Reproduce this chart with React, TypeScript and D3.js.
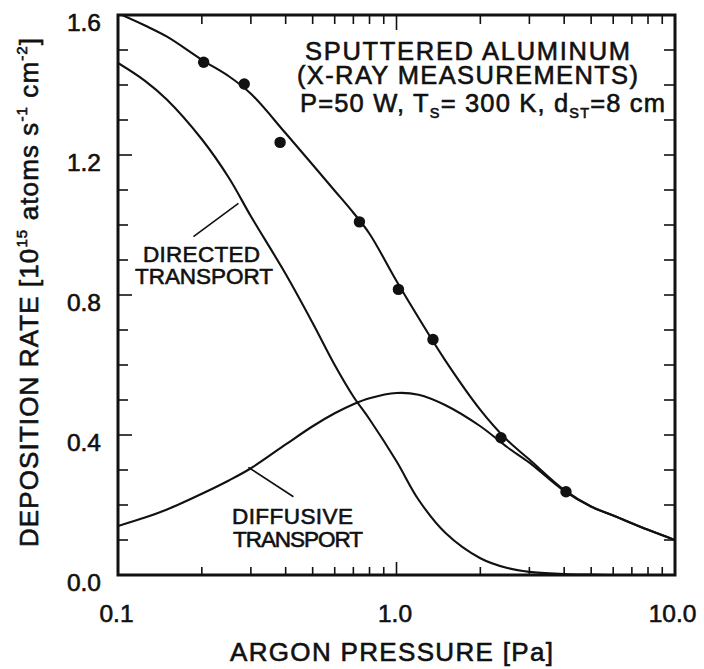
import React from "react";
import * as d3 from "d3";

// Argon pressure grid [Pa] on which the model curves are tabulated
const pressures = [0.1, 0.125, 0.15, 0.2, 0.25, 0.3, 0.4, 0.5, 0.6, 0.7, 0.8, 1.0, 1.2, 1.5, 2.0, 2.5, 3.0, 4.0, 5.0, 6.0, 8.0, 10.0];
// Deposition rate [10^15 atoms s^-1 cm^-2]
const totalRate = [1.605, 1.57, 1.538, 1.472, 1.425, 1.375, 1.262, 1.172, 1.098, 1.035, 0.975, 0.84, 0.735, 0.612, 0.472, 0.385, 0.33, 0.243, 0.196, 0.17, 0.129, 0.1];
const directedRate = [1.463, 1.412, 1.358, 1.245, 1.135, 1.025, 0.86, 0.72, 0.6, 0.51, 0.445, 0.325, 0.215, 0.12, 0.048, 0.02, 0.009, 0.003, 0.001, 0, 0, 0];
const diffusiveRate = [0.14, 0.164, 0.187, 0.232, 0.27, 0.305, 0.373, 0.425, 0.462, 0.488, 0.505, 0.52, 0.515, 0.485, 0.425, 0.365, 0.321, 0.24, 0.195, 0.17, 0.129, 0.1];

// X-ray measurements
const measuredPressure = [0.203, 0.284, 0.382, 0.736, 1.016, 1.352, 2.372, 4.06];
const measuredRate = [1.465, 1.403, 1.236, 1.009, 0.816, 0.673, 0.392, 0.238];

const xTickValues = [0.1, 1, 10];
const xTickLabels = ["0.1", "1.0", "10.0"];
const yTickValues = [0, 0.4, 0.8, 1.2, 1.6];
const yTickLabels = ["0.0", "0.4", "0.8", "1.2", "1.6"];

const W = 704;
const H = 669;
const left = 118;
const right = 675;
const top = 15;
const bottom = 575;
const FONT = "'Liberation Sans', Arial, Helvetica, sans-serif";
const INK = "#111";
// slight outline so the lettering reads as heavy as the line work
const textInk = { fill: INK, stroke: INK, strokeWidth: 0.6 };

export default function App() {
  const x = d3.scaleLog().domain([0.1, 10]).range([left, right]);
  const y = d3.scaleLinear().domain([0, 1.6]).range([bottom, top]);

  const line = d3
    .line<number>()
    .x((_, i) => x(pressures[i]))
    .y((d) => y(d))
    .curve(d3.curveCatmullRom.alpha(0.5));

  const xMinor = x.ticks();
  const yMinor = d3.range(0, 17).map((i) => i / 10);
  const isMajorX = (v: number) => Math.abs(Math.log10(v) - Math.round(Math.log10(v))) < 1e-9;
  const isMajorY = (v: number) => Math.abs(v / 0.4 - Math.round(v / 0.4)) < 1e-9;

  // annotation leaders, in data space
  const dirLeader = { p0: 0.2706, v0: 1.062, p1: 0.1866, v1: 0.967 };
  const difLeader = { p0: 0.2938, v0: 0.3077, p1: 0.4266, v1: 0.2237 };

  return (
    <svg
      width={W}
      height={H}
      style={{ position: "absolute", left: 0, top: 0, background: "#fff" }}
      fontFamily={FONT}
    >
      <rect width={W} height={H} fill="#fff" />
      <defs>
        <clipPath id="plot-area">
          <rect x={left} y={top} width={right - left} height={bottom - top} />
        </clipPath>
      </defs>

      {/* ticks */}
      <g stroke={INK} strokeWidth={1.6}>
        {yMinor.map((v) => {
          const major = isMajorY(v);
          return (
            <g key={"y" + v}>
              <line x1={left} x2={left + (major ? 14 : 10)} y1={y(v)} y2={y(v)} />
              <line x1={right} x2={right - 11} y1={y(v)} y2={y(v)} />
            </g>
          );
        })}
        {xMinor.map((v) => {
          const major = isMajorX(v);
          return (
            <g key={"x" + v}>
              <line x1={x(v)} x2={x(v)} y1={bottom} y2={bottom - (major ? 13 : 8)} />
              <line x1={x(v)} x2={x(v)} y1={top} y2={top + (major ? 15 : 9)} />
            </g>
          );
        })}
      </g>

      {/* curves */}
      <g clipPath="url(#plot-area)" fill="none" stroke={INK} strokeWidth={2.1}>
        <path d={line(directedRate) || ""} />
        <path d={line(diffusiveRate) || ""} />
        <path d={line(totalRate) || ""} />
      </g>

      {/* measured points */}
      <g fill={INK}>
        {measuredPressure.map((p, i) => (
          <circle key={i} cx={x(p)} cy={y(measuredRate[i])} r={5.7} />
        ))}
      </g>

      {/* frame */}
      <rect
        x={left}
        y={top}
        width={right - left}
        height={bottom - top}
        fill="none"
        stroke={INK}
        strokeWidth={3}
      />

      {/* tick labels */}
      <g {...textInk} fontSize={24.5}>
        {yTickValues.map((v, i) => (
          <text key={"yl" + v} x={101} y={y(v) + 15.5} textAnchor="end">
            {yTickLabels[i]}
          </text>
        ))}
        {xTickValues.map((v, i) => (
          <text key={"xl" + v} x={x(v) - (i === 2 ? 2.5 : 1.5)} y={622} textAnchor="middle">
            {xTickLabels[i]}
          </text>
        ))}
      </g>

      {/* axis titles */}
      <text x={230} y={661} fontSize={26} {...textInk} textLength={323} lengthAdjust="spacing">
        ARGON PRESSURE  [Pa]
      </text>
      <text
        transform="translate(37.5,547) rotate(-90)"
        fontSize={26}
        {...textInk}
        textLength={509}
        lengthAdjust="spacing"
      >
        DEPOSITION RATE  [10
        <tspan fontSize={15} dy={-11}>15</tspan>
        <tspan dy={11}> atoms s</tspan>
        <tspan fontSize={15} dy={-11}>-1</tspan>
        <tspan dy={11}> cm</tspan>
        <tspan fontSize={15} dy={-11}>-2</tspan>
        <tspan dy={11}>]</tspan>
      </text>

      {/* title block */}
      <g {...textInk} fontSize={25.5}>
        <text x={305} y={60} textLength={325} lengthAdjust="spacing">SPUTTERED  ALUMINUM</text>
        <text x={297} y={84} textLength={341} lengthAdjust="spacing">(X-RAY MEASUREMENTS)</text>
        <text x={300} y={112} textLength={365} lengthAdjust="spacing">
          P=50 W, T
          <tspan fontSize={14.5} dy={6}>S</tspan>
          <tspan dy={-6}>= 300 K, d</tspan>
          <tspan fontSize={14.5} dy={6}>ST</tspan>
          <tspan dy={-6}>=8 cm</tspan>
        </text>
      </g>

      {/* curve annotations */}
      <g stroke={INK} strokeWidth={1.6}>
        <line x1={x(dirLeader.p0)} y1={y(dirLeader.v0)} x2={x(dirLeader.p1)} y2={y(dirLeader.v1)} />
        <line x1={x(difLeader.p0)} y1={y(difLeader.v0)} x2={x(difLeader.p1)} y2={y(difLeader.v1)} />
      </g>
      <g {...textInk} fontSize={22.5}>
        <text x={143} y={262} textLength={117} lengthAdjust="spacing">DIRECTED</text>
        <text x={135} y={284} textLength={138} lengthAdjust="spacing">TRANSPORT</text>
        <text x={232} y={524} textLength={121} lengthAdjust="spacing">DIFFUSIVE</text>
        <text x={233} y={547} textLength={130} lengthAdjust="spacing">TRANSPORT</text>
      </g>
    </svg>
  );
}
